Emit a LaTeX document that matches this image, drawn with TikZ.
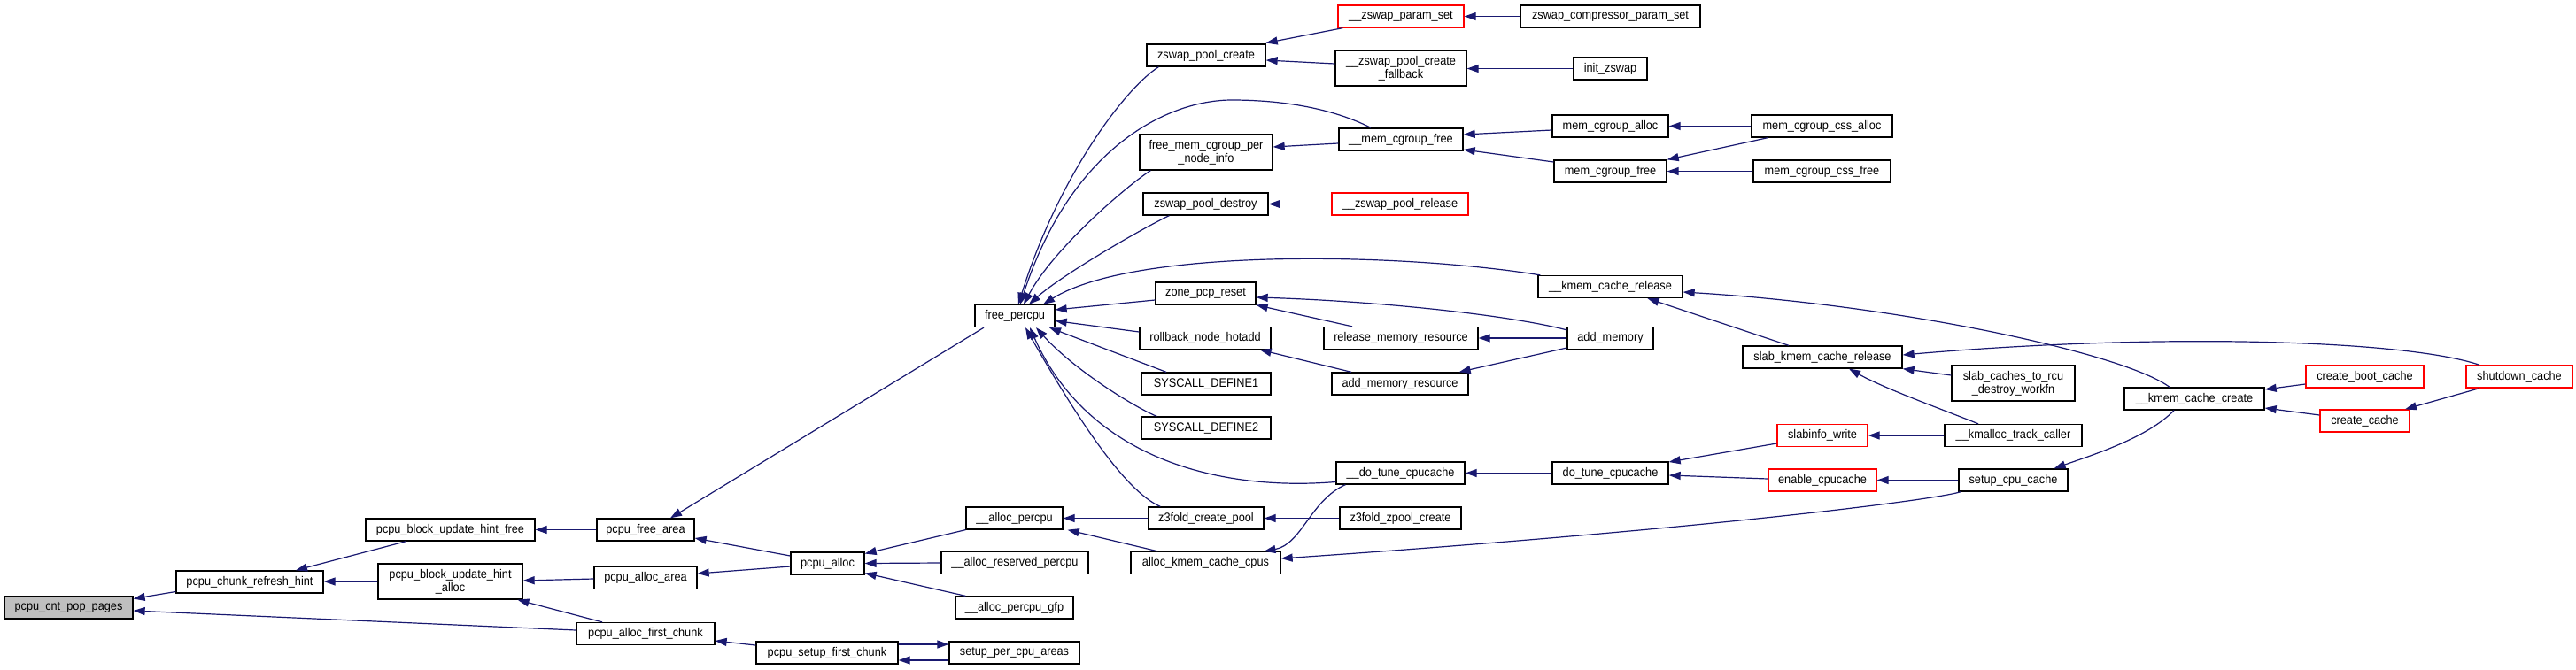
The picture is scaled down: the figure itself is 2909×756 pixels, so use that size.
\documentclass[tikz,border=0pt]{standalone}
\usepackage{fontspec}
\setmainfont{Liberation Sans}[FakeStretch=0.91]
\usetikzlibrary{arrows.meta}
\definecolor{edgeblue}{HTML}{191970}
\definecolor{boxred}{HTML}{FF0000}
\definecolor{boxgray}{HTML}{BFBFBF}
\newcommand\fnnode[7][]{\node[fnbox,#1,minimum width=#5pt,minimum height=#6pt] (#2) at (#3,#4) {#7};}
\begin{document}
\begin{tikzpicture}[x=1pt,y=-1pt,
 fnbox/.style={draw=black,line width=1.3pt,fill=white,inner sep=0pt,align=center,font=\fontsize{14}{15}\selectfont},
 redbox/.style={draw=boxred},
 rootbox/.style={fill=boxgray},
 calls/.style={draw=edgeblue,line width=1.2pt,-{Triangle[length=13pt,width=9pt]}}]
\useasboundingbox (0,0) rectangle (2909,756);

\fnnode[rootbox]{cnt}{77.5}{686.5}{145}{25}{pcpu\_cnt\_pop\_pages}
\fnnode{refresh}{282}{657.5}{166}{25}{pcpu\_chunk\_refresh\_hint}
\fnnode{hfree}{508.5}{598.5}{191}{25}{pcpu\_block\_update\_hint\_free}
\fnnode{halloc}{508.5}{657}{163}{40}{pcpu\_block\_update\_hint\\\_alloc}
\fnnode{freearea}{729}{598.5}{110}{25}{pcpu\_free\_area}
\fnnode{allocarea}{729}{653}{116}{25}{pcpu\_alloc\_area}
\fnnode{palloc}{934.5}{636.5}{83}{25}{pcpu\_alloc}
\fnnode{firstchunk}{729}{716}{156}{25}{pcpu\_alloc\_first\_chunk}
\fnnode{setupfirst}{934}{737.5}{160}{25}{pcpu\_setup\_first\_chunk}
\fnnode{setupper}{1145.5}{737.5}{147}{25}{setup\_per\_cpu\_areas}
\fnnode{allocpercpu}{1145.5}{585.5}{109}{25}{\_\_alloc\_percpu}
\fnnode{reserved}{1146}{636}{166}{25}{\_\_alloc\_reserved\_percpu}
\fnnode{gfp}{1145.5}{686.5}{133}{25}{\_\_alloc\_percpu\_gfp}
\fnnode{freepercpu}{1146}{357}{90}{25}{free\_percpu}
\fnnode{zpcreate}{1362}{62.5}{134}{25}{zswap\_pool\_create}
\fnnode{fmcpni}{1362}{172}{150}{40}{free\_mem\_cgroup\_per\\\_node\_info}
\fnnode{zpdestroy}{1361.5}{230.5}{141}{25}{zswap\_pool\_destroy}
\fnnode{zonepcp}{1361.5}{331.5}{113}{25}{zone\_pcp\_reset}
\fnnode{rollback}{1361}{382}{148}{25}{rollback\_node\_hotadd}
\fnnode{sysone}{1362}{433.5}{146}{25}{SYSCALL\_DEFINE1}
\fnnode{systwo}{1362}{483.5}{146}{25}{SYSCALL\_DEFINE2}
\fnnode{z3create}{1362}{585.5}{130}{25}{z3fold\_create\_pool}
\fnnode{akcc}{1361.5}{636}{169}{25}{alloc\_kmem\_cache\_cpus}
\fnnode[redbox]{paramset}{1582}{18.5}{142}{25}{\_\_zswap\_param\_set}
\fnnode{fallback}{1582}{77}{148}{40}{\_\_zswap\_pool\_create\\\_fallback}
\fnnode{memfreeu}{1582}{157.5}{140}{25}{\_\_mem\_cgroup\_free}
\fnnode[redbox]{zprelease}{1581}{230.5}{154}{25}{\_\_zswap\_pool\_release}
\fnnode{rmr}{1582}{382}{174}{25}{release\_memory\_resource}
\fnnode{amr}{1581}{433.5}{154}{25}{add\_memory\_resource}
\fnnode{dotuneu}{1581.5}{534.5}{145}{25}{\_\_do\_tune\_cpucache}
\fnnode{z3zpool}{1581.5}{585.5}{137}{25}{z3fold\_zpool\_create}
\fnnode{compparam}{1818.5}{18.5}{203}{25}{zswap\_compressor\_param\_set}
\fnnode{initzswap}{1818.5}{77.5}{83}{25}{init\_zswap}
\fnnode{memalloc}{1818.5}{142.5}{131}{25}{mem\_cgroup\_alloc}
\fnnode{memfree}{1818.5}{193.5}{127}{25}{mem\_cgroup\_free}
\fnnode{kcreleaseu}{1818.5}{324}{163}{25}{\_\_kmem\_cache\_release}
\fnnode{addmem}{1818.5}{382}{97}{25}{add\_memory}
\fnnode{dotune}{1818.5}{534.5}{131}{25}{do\_tune\_cpucache}
\fnnode{cssalloc}{2057.5}{142.5}{159}{25}{mem\_cgroup\_css\_alloc}
\fnnode{cssfree}{2057.5}{193.5}{155}{25}{mem\_cgroup\_css\_free}
\fnnode{skcr}{2058}{403.5}{180}{25}{slab\_kmem\_cache\_release}
\fnnode[redbox]{slabinfo}{2058}{492}{102}{25}{slabinfo\_write}
\fnnode[redbox]{enablecpu}{2058}{542.5}{122}{25}{enable\_cpucache}
\fnnode{rcu}{2273.5}{433}{139}{40}{slab\_caches\_to\_rcu\\\_destroy\_workfn}
\fnnode{kmtc}{2273.5}{492}{155}{25}{\_\_kmalloc\_track\_caller}
\fnnode{setupcpu}{2273.5}{542.5}{123}{25}{setup\_cpu\_cache}
\fnnode{kccreateu}{2478}{450.5}{158}{25}{\_\_kmem\_cache\_create}
\fnnode[redbox]{bootcache}{2670.5}{425.5}{133}{25}{create\_boot\_cache}
\fnnode[redbox]{createcache}{2670.5}{475.5}{101}{25}{create\_cache}
\fnnode[redbox]{shutdown}{2845}{425.5}{120}{25}{shutdown\_cache}

% left part
\draw[calls] ([yshift=-11pt]refresh.west) -- ([yshift=10pt]cnt.east);
\draw[calls] ([yshift=4pt]firstchunk.west) -- ([yshift=-3.5pt]cnt.east);
\draw[calls] ([xshift=-50pt]hfree.south) -- ([xshift=52pt]refresh.north);
\draw[calls] (halloc.west) -- (refresh.east |- halloc.west);
\draw[calls] (freearea.west) -- (hfree.east);
\draw[calls] ([yshift=-1pt]allocarea.west) -- ([yshift=1pt]halloc.east);
\draw[calls] ([xshift=-49pt]firstchunk.north) -- ([xshift=76pt]halloc.south);
\draw[calls] ([xshift=-35pt]freepercpu.south) -- ([xshift=28pt]freearea.north);
\draw[calls] ([yshift=8.5pt]palloc.west) -- ([yshift=-9.5pt]freearea.east);
\draw[calls] ([yshift=-3.5pt]palloc.west) -- ([yshift=5pt]allocarea.east);
\draw[calls] ([yshift=8.5pt]setupfirst.west) -- ([yshift=-8pt]firstchunk.east);
\draw[calls] ([yshift=9.5pt]setupfirst.east) -- ([yshift=9.5pt]setupper.west);
\draw[calls] ([yshift=-8.5pt]setupper.west) -- ([yshift=-8.5pt]setupfirst.east);
\draw[calls] (allocpercpu.south west) -- ([yshift=11pt]palloc.east);
\draw[calls] (reserved.west) -- (palloc.east);
\draw[calls] ([xshift=12pt]gfp.north west) -- ([yshift=-11pt]palloc.east);
\draw[calls] (z3create.west) -- (allocpercpu.east);
\draw[calls] ([xshift=-54pt]akcc.north) -- ([xshift=5pt]allocpercpu.south east);
\draw[calls] (z3zpool.west) -- (z3create.east);

% into free_percpu
\draw[calls] ([xshift=14pt]zpcreate.south west) .. controls (1270,100) and (1195,200) .. ([xshift=4pt]freepercpu.north);
\draw[calls] ([xshift=-34pt]memfreeu.north) .. controls (1500,120) and (1440,113) .. (1391,113)
   .. controls (1320,113) and (1210,165) .. ([xshift=6pt]freepercpu.north);
\draw[calls] ([xshift=13pt]fmcpni.south west) .. controls (1275,208) and (1190,280) .. ([xshift=10pt]freepercpu.north);
\draw[calls] ([xshift=30pt]zpdestroy.south west) .. controls (1290,258) and (1200,310) .. ([xshift=16pt]freepercpu.north);
\draw[calls] ([xshift=3pt]kcreleaseu.north west) .. controls (1580,285) and (1280,280) .. ([xshift=32pt]freepercpu.north);
\draw[calls] ([yshift=-7.5pt]zonepcp.west) -- ([yshift=7pt]freepercpu.east);
\draw[calls] ([yshift=7pt]rollback.west) -- ([yshift=-5.5pt]freepercpu.east);
\draw[calls] ([xshift=-45pt]sysone.north) -- ([xshift=39pt]freepercpu.south);
\draw[calls] ([xshift=18pt]systwo.north west) .. controls (1285,462) and (1215,420) .. ([xshift=24pt]freepercpu.south);
\draw[calls] ([yshift=-10pt]dotuneu.west) .. controls (1380,555) and (1230,520) .. ([xshift=17pt]freepercpu.south);
\draw[calls] ([xshift=14pt]z3create.north west) .. controls (1270,555) and (1215,470) .. ([xshift=12pt]freepercpu.south);

% zswap / memcg
\draw[calls] ([xshift=6pt]paramset.south west) -- ([yshift=14pt]zpcreate.east);
\draw[calls] ([yshift=5pt]fallback.west) -- ([yshift=-5.5pt]zpcreate.east);
\draw[calls] (compparam.west) -- (paramset.east);
\draw[calls] (initzswap.west) -- (fallback.east |- initzswap.west);
\draw[calls] ([yshift=-4.5pt]memfreeu.west) -- ([yshift=6pt]fmcpni.east);
\draw[calls] ([yshift=-4.5pt]memalloc.west) -- ([yshift=5.5pt]memfreeu.east);
\draw[calls] ([yshift=10.5pt]memfree.west) -- ([yshift=-11.5pt]memfreeu.east);
\draw[calls] (cssalloc.west) -- (memalloc.east);
\draw[calls] ([xshift=19pt]cssalloc.south west) -- (memfree.north east);
\draw[calls] (cssfree.west) -- (memfree.east);
\draw[calls] (zprelease.west) -- (zpdestroy.east);

% memory hotplug
\draw[calls] ([xshift=-55pt]rmr.north) -- (zonepcp.south east);
\draw[calls] ([yshift=-4pt]addmem.north west) .. controls (1700,355) and (1550,340) .. ([yshift=-4.5pt]zonepcp.east);
\draw[calls] (addmem.west) -- (rmr.east);
\draw[calls] ([yshift=-11pt]addmem.west) -- ([xshift=-11pt]amr.north east);
\draw[calls] ([xshift=-55pt]amr.north) -- ([xshift=-13pt]rollback.south east);

% slab
\draw[calls] ([xshift=11pt]dotuneu.south west) .. controls (1480,565) and (1470,615) .. ([xshift=66pt]akcc.north);
\draw[calls] ([xshift=3pt]setupcpu.south west) .. controls (2180,566) and (1900,600) .. ([yshift=5pt]akcc.east);
\draw[calls] (dotune.west) -- (dotuneu.east);
\draw[calls] ([yshift=-9pt]slabinfo.west) -- ([yshift=12.5pt]dotune.east);
\draw[calls] ([yshift=1.5pt]enablecpu.west) -- ([yshift=-2.5pt]dotune.east);
\draw[calls] (kmtc.west) -- (slabinfo.east);
\draw[calls] (setupcpu.west) -- (enablecpu.east);
\draw[calls] ([xshift=-23pt]kccreateu.south) .. controls (2425,495) and (2360,515) .. ([xshift=46pt]setupcpu.north);
\draw[calls] ([xshift=-38pt]skcr.north) -- ([xshift=42pt]kcreleaseu.south);
\draw[calls] ([xshift=-28pt]kccreateu.north) .. controls (2400,400) and (2150,345) .. ([yshift=-6pt]kcreleaseu.east);
\draw[calls] ([xshift=-45pt]shutdown.north) .. controls (2720,385) and (2450,375) .. ([yshift=2.5pt]skcr.east);
\draw[calls] ([yshift=9pt]rcu.west) -- (skcr.south east);
\draw[calls] ([xshift=-39.5pt]kmtc.north) .. controls (2200,465) and (2130,440) .. ([xshift=30pt]skcr.south);
\draw[calls] ([yshift=-8.5pt]bootcache.west) -- ([yshift=10.5pt]kccreateu.east);
\draw[calls] ([yshift=6.5pt]createcache.west) -- ([yshift=-10.5pt]kccreateu.east);
\draw[calls] ([xshift=-45pt]shutdown.south) -- ([xshift=45.5pt]createcache.north);
\end{tikzpicture}
\end{document}
